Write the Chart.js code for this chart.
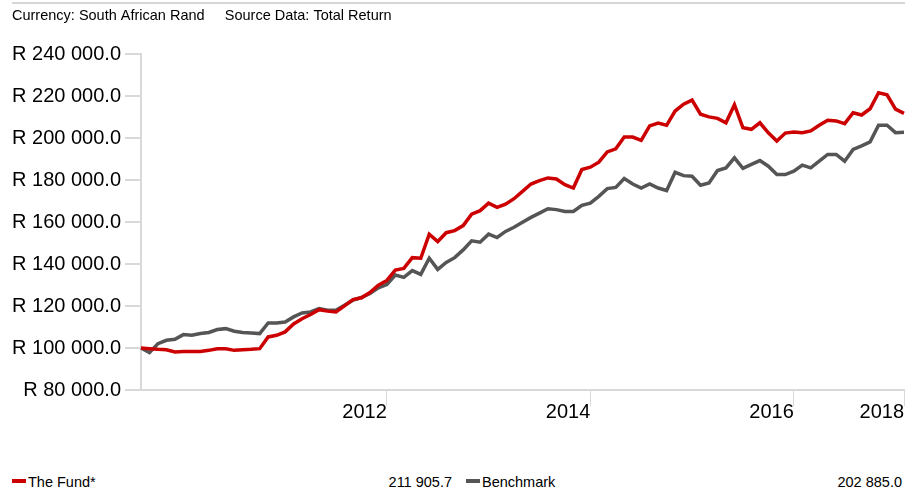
<!DOCTYPE html>
<html>
<head>
<meta charset="utf-8">
<script src="https://cdn.jsdelivr.net/npm/chart.js@4/dist/chart.umd.min.js"></script>
<style>
  body { margin: 0; background: #fff; font-family: "Liberation Sans", Arial, sans-serif; }
  #wrap { position: absolute; left: 0; top: 0; width: 905px; height: 418px; }
  #topline { position: absolute; left: 12px; top: 2px; width: 893px; height: 2px; background: #d6d6d6; }
  .leg { position: absolute; top: 474px; font-size: 14.5px; color: #000; white-space: nowrap; line-height: 16px; }
  .sw { display: inline-block; width: 14px; height: 4px; vertical-align: middle; margin-right: 2px; position: relative; top: -2px; }
  .val { position: absolute; top: 474px; font-size: 14.5px; text-align: right; line-height: 16px; }
</style>
</head>
<body>
<div id="topline"></div>
<div id="wrap"><canvas id="myChart"></canvas></div>
<div class="leg" style="left:12px"><span class="sw" style="background:#cc0000"></span>The Fund*</div>
<div class="val" id="fundVal" style="right:453px"></div>
<div class="leg" style="left:466px"><span class="sw" style="background:#555555"></span>Benchmark</div>
<div class="val" id="benchVal" style="right:3px"></div>
<script>
// monthly values, Jul 2010 .. Jan 2018
const fund = [100000, 99700, 99400, 99200, 98100, 98400, 98400, 98400, 98900, 99700,
  99700, 98900, 99200, 99400, 99700, 105300, 106100, 107700, 111500, 114000,
  116000, 118300, 117600, 117200, 120100, 123100, 123950, 126500, 130000, 132250,
  137200, 138000, 143100, 142800, 154300, 150800, 155000, 156000, 158400, 163800,
  165500, 169100, 167100, 168600, 171200, 174700, 178200, 179800, 181100, 180600,
  177900, 176300, 185100, 186200, 188600, 193500, 195000, 200600, 200600, 199000,
  205900, 207300, 206200, 213000, 216250, 218200, 211500, 210200, 209500, 207400,
  216000, 205000, 204300, 207400, 202600, 198700, 202500, 203000, 202700, 203500,
  206200, 208600, 208300, 207000, 212200, 211100, 214100, 221700, 220700, 213900, 211905.7];

const benchmark = [100000, 97800, 102100, 103700, 104200, 106400, 106100, 106900, 107400, 108800,
  109250, 108000, 107400, 107200, 106900, 112000, 112000, 112450, 114850, 116700,
  117200, 118800, 118000, 118000, 120450, 122850, 124100, 126000, 128750, 130300,
  134800, 133700, 136900, 135100, 142800, 137500, 140800, 143100, 146800, 151100,
  150450, 154300, 152700, 155600, 157600, 160000, 162300, 164300, 166400, 166000,
  165100, 165100, 168000, 169100, 172300, 176000, 176600, 180800, 178200, 176300,
  178200, 176300, 175100, 183800, 182200, 181900, 177600, 178700, 184600, 185900,
  190700, 185700, 187600, 189400, 186700, 182700, 182700, 184300, 187200, 185900,
  189100, 192300, 192300, 189100, 194700, 196400, 198300, 206200, 206200, 202700, 202885.0];

const monthNames = ['Jan','Feb','Mar','Apr','May','Jun','Jul','Aug','Sep','Oct','Nov','Dec'];
const months = [];
for (let i = 0; i < fund.length; i++) {
  const m = (6 + i) % 12, y = 2010 + Math.floor((6 + i) / 12);
  months.push(monthNames[m] + ' ' + y);
}

// tick marks on the x axis and the text drawn next to them
const xTicks = {'Jul 2010': '', 'Dec 2010': '', 'Dec 2012': '2012', 'Dec 2014': '2014', 'Dec 2016': '2016', 'Jan 2018': '2018'};
const yTicks = [80000, 100000, 120000, 140000, 160000, 180000, 200000, 220000, 240000];

function fmt(v, dec) {
  const parts = v.toFixed(dec).split('.');
  const int = parts[0].replace(/\B(?=(\d{3})+(?!\d))/g, ' ');
  return parts.length > 1 ? int + '.' + parts[1] : int;
}

document.getElementById('fundVal').textContent = fmt(fund[fund.length - 1], 1);
document.getElementById('benchVal').textContent = fmt(benchmark[benchmark.length - 1], 1);

const grey = '#d9d9d9';
const ctx = document.getElementById('myChart').getContext('2d');

const chart = new Chart(ctx, {
  type: 'line',
  data: {
    labels: months,
    datasets: [
      { label: 'The Fund*', data: fund, borderColor: '#cc0000', borderWidth: 3.5, pointRadius: 0, tension: 0 },
      { label: 'Benchmark', data: benchmark, borderColor: '#555555', borderWidth: 3.5, pointRadius: 0, tension: 0 }
    ]
  },
  options: {
    responsive: true,
    maintainAspectRatio: false,
    animation: false,
    layout: { padding: { left: 12, right: 1, top: 0, bottom: 0 } },
    plugins: {
      legend: { display: false },
      tooltip: { enabled: false },
      title: {
        display: true,
        text: 'Currency: South African Rand     Source Data: Total Return',
        align: 'start',
        color: '#000',
        font: { family: '"Liberation Sans", Arial', size: 14.5, weight: 'normal' },
        padding: { top: 7, bottom: 30 }
      }
    },
    scales: {
      x: {
        grid: {
          drawOnChartArea: false,
          tickLength: 16,
          color: (c) => (c.tick && xTicks[months[c.tick.value]] !== undefined) ? grey : 'rgba(0,0,0,0)'
        },
        border: { color: grey, width: 2 },
        ticks: {
          autoSkip: false,
          maxRotation: 0,
          align: 'end',
          padding: -6,
          color: '#000',
          font: { family: '"Liberation Sans", Arial', size: 20 },
          callback: function (val) { const t = xTicks[months[val]]; return t ? t : null; }
        }
      },
      y: {
        min: 80000,
        max: 240000,
        afterBuildTicks: (s) => { s.ticks = yTicks.map(v => ({ value: v })); },
        afterFit: (s) => { s.width = 129; },
        grid: { drawOnChartArea: false, tickLength: 16, color: grey, lineWidth: 2 },
        border: { color: grey, width: 2 },
        ticks: {
          padding: 4,
          color: '#000',
          font: { family: '"Liberation Sans", Arial', size: 20 },
          callback: (v) => 'R ' + fmt(v, 1)
        }
      }
    }
  }
});
</script>
</body>
</html>
